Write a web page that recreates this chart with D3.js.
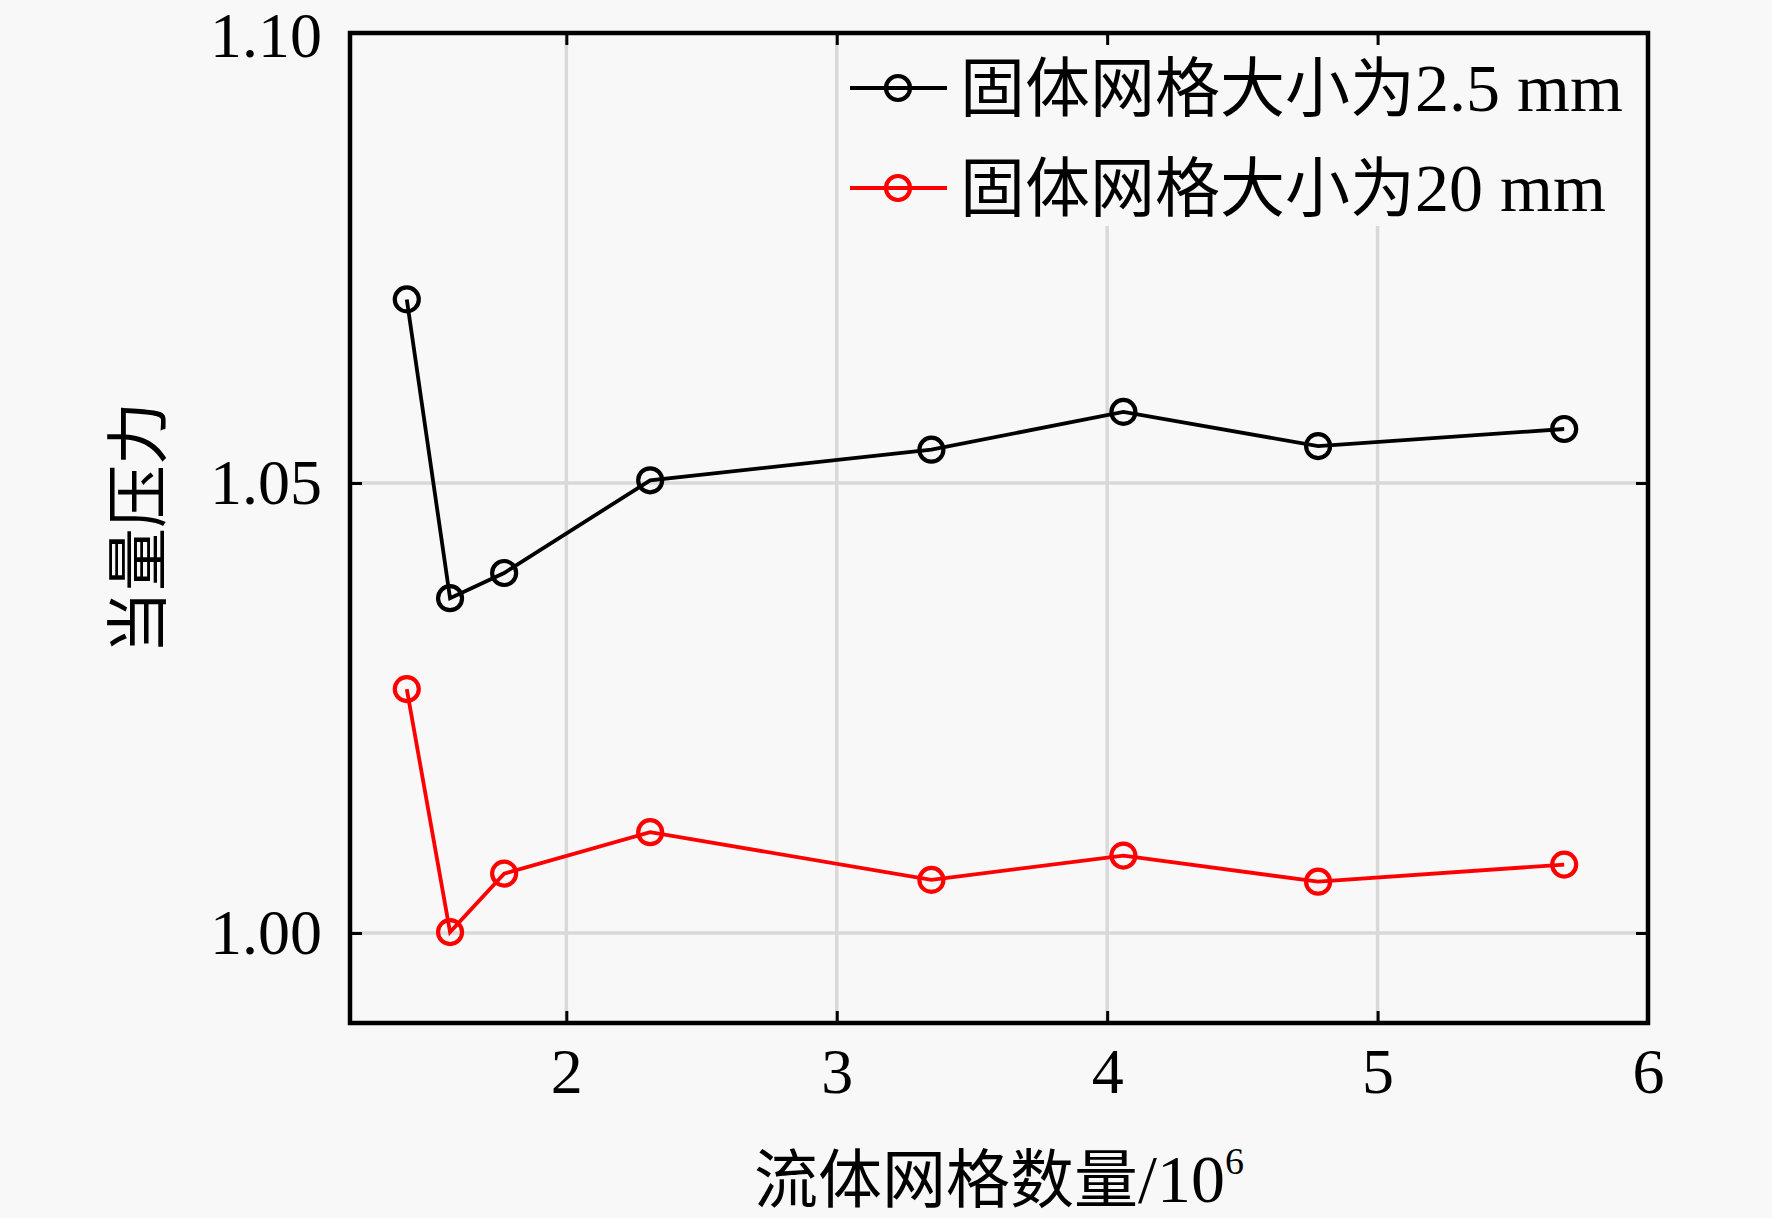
<!DOCTYPE html>
<html>
<head>
<meta charset="utf-8">
<script src="https://cdn.jsdelivr.net/npm/d3@7"></script>
<style>
body { margin: 0; background: #f8f8f8; }
text { font-family: "Liberation Serif", "Noto Sans CJK SC", serif; fill: #000; }
</style>
</head>
<body>
<svg id="chart" width="1772" height="1218"></svg>
<script>

// data
var meshCounts = [ 1.41, 1.57, 1.77, 2.31, 3.35, 4.06, 4.78, 5.69 ];
var pressureFine = [ 1.0704, 1.0372, 1.0400, 1.0503, 1.0537, 1.0579, 1.0541, 1.0560 ];
var pressureCoarse = [ 1.0271, 1.0001, 1.0066, 1.0112, 1.0059, 1.0086, 1.0057, 1.0076 ];
var seriesNames = [ "固体网格大小为2.5 mm", "固体网格大小为20 mm" ];
var seriesColors = [ "#000000", "#ff0000" ];
var xTicks = [ 2, 3, 4, 5, 6 ];
var yTicks = [ 1.00, 1.05, 1.10 ];
var xGrid = [ 2, 3, 4, 5 ];
var yGrid = [ 1.00, 1.05 ];

var width = 1772, height = 1218;
var margin = { top: 33, right: 124, bottom: 195, left: 350 };

var svg = d3.select("#chart");

svg.append("rect") //
.attr("width", width) //
.attr("height", height) //
.attr("fill", "#f8f8f8");

var x = d3.scaleLinear().domain([ 1.2, 6 ]).range(
		[ margin.left, width - margin.right ]);
var y = d3.scaleLinear().domain([ 0.99, 1.10 ]).range(
		[ height - margin.bottom, margin.top ]);

var x0 = x.range()[0], x1 = x.range()[1];
var y0 = y.range()[0], y1 = y.range()[1];

function drawGrid() {

	svg.append("g").selectAll("line").data(xGrid).enter().append("line") //
	.attr("x1", function(d) { return x(d); }) //
	.attr("x2", function(d) { return x(d); }) //
	.attr("y1", y0) //
	.attr("y2", y1) //
	.attr("stroke", "#d9d9d9") //
	.attr("stroke-width", 3.5);

	svg.append("g").selectAll("line").data(yGrid).enter().append("line") //
	.attr("x1", x0) //
	.attr("x2", x1) //
	.attr("y1", function(d) { return y(d); }) //
	.attr("y2", function(d) { return y(d); }) //
	.attr("stroke", "#d9d9d9") //
	.attr("stroke-width", 3.5);

}// END: drawGrid

function drawSeries(values, color) {

	var points = meshCounts.map(function(m, i) {
		return [ m, values[i] ];
	});

	var line = d3.line() //
	.x(function(d) { return x(d[0]); }) //
	.y(function(d) { return y(d[1]); });

	svg.append("path") //
	.datum(points) //
	.attr("d", line) //
	.attr("fill", "none") //
	.attr("stroke", color) //
	.attr("stroke-width", 3.8);

	svg.append("g").selectAll("circle").data(points).enter().append("circle") //
	.attr("cx", function(d) { return x(d[0]); }) //
	.attr("cy", function(d) { return y(d[1]); }) //
	.attr("r", 12) //
	.attr("fill", "none") //
	.attr("stroke", color) //
	.attr("stroke-width", 4.2);

}// END: drawSeries

function drawLegend() {

	svg.append("rect") //
	.attr("x", 848) //
	.attr("y", 38) //
	.attr("width", x1 - 848 - 3) //
	.attr("height", 188) //
	.attr("fill", "#f8f8f8");

	var rows = svg.append("g").selectAll("g").data(seriesNames).enter()
			.append("g") //
	.attr("transform", function(d, i) {
		return "translate(850," + (88 + i * 100) + ")";
	});

	rows.append("line") //
	.attr("x1", 0) //
	.attr("x2", 97) //
	.attr("stroke", function(d, i) { return seriesColors[i]; }) //
	.attr("stroke-width", 3.8);

	rows.append("circle") //
	.attr("cx", 48) //
	.attr("r", 12) //
	.attr("fill", "none") //
	.attr("stroke", function(d, i) { return seriesColors[i]; }) //
	.attr("stroke-width", 4.2);

	var label = rows.append("text") //
	.attr("x", 110) //
	.attr("y", 23) //
	.attr("font-size", 65);
	label.append("tspan").text(function(d) {
		return d.slice(0, 7);
	});
	label.append("tspan") //
	.attr("font-size", 68) //
	.text(function(d) {
		return d.slice(7);
	});

}// END: drawLegend

function drawAxes() {

	var bottom = svg.append("g") //
	.attr("transform", "translate(0," + y0 + ")") //
	.call(d3.axisBottom(x).tickValues(xTicks).tickSize(-12).tickPadding(25)
			.tickFormat(d3.format("d")));

	var top = svg.append("g") //
	.attr("transform", "translate(0," + y1 + ")") //
	.call(d3.axisTop(x).tickValues(xGrid).tickSize(-12).tickFormat(""));

	var left = svg.append("g") //
	.attr("transform", "translate(" + x0 + ",0)") //
	.call(d3.axisLeft(y).tickValues(yTicks).tickSize(-12).tickPadding(28)
			.tickFormat(d3.format(".2f")));

	var right = svg.append("g") //
	.attr("transform", "translate(" + x1 + ",0)") //
	.call(d3.axisRight(y).tickValues(yGrid).tickSize(-12).tickFormat(""));

	[ bottom, top, left, right ].forEach(function(g) {
		g.select(".domain").remove();
		g.selectAll(".tick line").attr("stroke", "#000").attr(
				"stroke-width", 3);
		g.selectAll(".tick text").attr("font-size", 64).attr("font-family",
				"Liberation Serif").attr("fill", "#000");
	});

	// hide the edge ticks at 6 and 1.10
	bottom.selectAll(".tick line").filter(function(d) {
		return d === 6;
	}).remove();
	left.selectAll(".tick line").filter(function(d) {
		return d === 1.10;
	}).remove();
	left.selectAll(".tick text").filter(function(d) {
		return d === 1.10;
	}).attr("dy", "0.36em");

	svg.append("rect") //
	.attr("x", x0) //
	.attr("y", y1) //
	.attr("width", x1 - x0) //
	.attr("height", y0 - y1) //
	.attr("fill", "none") //
	.attr("stroke", "#000") //
	.attr("stroke-width", 4.5);

	svg.append("text") //
	.attr("transform", "translate(160," + ((y0 + y1) / 2) + ") rotate(-90)") //
	.attr("text-anchor", "middle") //
	.attr("font-size", 63) //
	.text("当量压力");

	var xTitle = svg.append("text") //
	.attr("x", (x0 + x1) / 2) //
	.attr("y", 1202) //
	.attr("text-anchor", "middle") //
	.attr("font-size", 64);
	xTitle.append("tspan").text("流体网格数量");
	xTitle.append("tspan") //
	.attr("font-size", 68) //
	.text("/10");
	xTitle.append("tspan") //
	.attr("font-size", 38) //
	.attr("dy", -28) //
	.text("6");

}// END: drawAxes

drawGrid();
drawSeries(pressureFine, seriesColors[0]);
drawSeries(pressureCoarse, seriesColors[1]);
drawLegend();
drawAxes();

</script>
</body>
</html>
